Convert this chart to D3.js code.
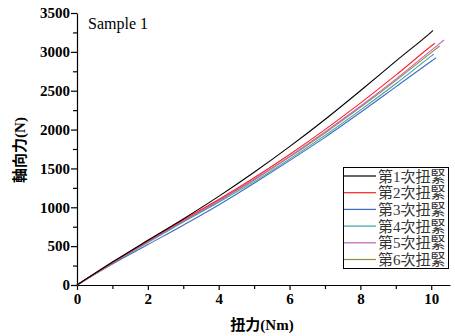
<!DOCTYPE html>
<html>
<head>
<meta charset="utf-8">
<script src="https://cdn.jsdelivr.net/npm/d3@7"></script>
<style>
  body { margin: 0; background: #fff; }
  .tick text { font-family: "Liberation Serif", serif; font-weight: bold; font-size: 15px; fill: #000; }
  .domain, .tick line { stroke: #000; stroke-width: 1.2; }
</style>
</head>
<body>
<div class="chart"></div>
<script>
var svgWidth = 455;
var svgHeight = 336;

// data (torque Nm -> axial force N)
var seriesNames = ["第1次扭緊", "第2次扭緊", "第3次扭緊", "第4次扭緊", "第5次扭緊", "第6次扭緊"];
var seriesColors = ["#000000", "#ff2020", "#3a6cc8", "#3fa0a0", "#c060c0", "#8f8f40"];

var torque1 = [0, 1, 2, 3, 4, 5, 6, 7, 8, 9, 10, 10.05];
var force1 = [0, 295, 575, 850, 1140, 1450, 1780, 2130, 2500, 2880, 3255, 3275];
var torque2 = [0, 1, 2, 3, 4, 5, 6, 7, 8, 9, 10, 10.1];
var force2 = [0, 290, 570, 840, 1100, 1380, 1680, 2000, 2340, 2700, 3075, 3111];
var torque3 = [0, 1, 2, 3, 4, 5, 6, 7, 8, 9, 10, 10.14];
var force3 = [0, 270, 520, 770, 1030, 1310, 1600, 1900, 2220, 2550, 2880, 2925];
var torque4 = [0, 1, 2, 3, 4, 5, 6, 7, 8, 9, 10, 10.07];
var force4 = [0, 280, 548, 810, 1065, 1330, 1620, 1925, 2250, 2590, 2945, 2969];
var torque5 = [0, 1, 2, 3, 4, 5, 6, 7, 8, 9, 10, 10.36];
var force5 = [0, 285, 560, 825, 1085, 1360, 1655, 1970, 2300, 2650, 3020, 3153];
var torque6 = [0, 1, 2, 3, 4, 5, 6, 7, 8, 9, 10, 10.24];
var force6 = [0, 283, 555, 820, 1080, 1350, 1645, 1955, 2285, 2630, 2990, 3076];

var xTicks = [0, 2, 4, 6, 8, 10];
var yTicks = [0, 500, 1000, 1500, 2000, 2500, 3000, 3500];

var allTorque = [torque1, torque2, torque3, torque4, torque5, torque6];
var allForce = [force1, force2, force3, force4, force5, force6];

var svg = d3.select(".chart")
  .append("svg")
  .attr("width", svgWidth)
  .attr("height", svgHeight);

var xScale = d3.scaleLinear().domain([0, 10.53]).range([77, 450]);
var yScale = d3.scaleLinear().domain([0, 3500]).range([285, 13]);

// minor ticks first, majors on top
svg.append("g")
  .attr("transform", "translate(0,285)")
  .call(d3.axisBottom(xScale).tickValues(d3.range(1, 11, 2)).tickSize(4).tickFormat(""))
  .select(".domain").remove();
svg.append("g")
  .attr("transform", "translate(77,0)")
  .call(d3.axisLeft(yScale).tickValues(d3.range(250, 3500, 500)).tickSize(4).tickFormat(""))
  .select(".domain").remove();

svg.append("g")
  .attr("transform", "translate(0,285)")
  .call(d3.axisBottom(xScale).tickValues(xTicks).tickFormat(d3.format("d"))
    .tickSize(5).tickSizeOuter(0).tickPadding(3));

svg.append("g")
  .attr("transform", "translate(77,0)")
  .call(d3.axisLeft(yScale).tickValues(yTicks).tickFormat(d3.format("d"))
    .tickSize(6).tickSizeOuter(0).tickPadding(1));

// curves
var line = d3.line()
  .x(function(d) { return xScale(d[0]); })
  .y(function(d) { return yScale(d[1]); })
  .curve(d3.curveMonotoneX);

// draw black last like the reference stacking
var order = [2, 3, 5, 4, 1, 0];
order.forEach(function(i) {
  var pts = allTorque[i].map(function(t, j) { return [t, allForce[i][j]]; });
  svg.append("path")
    .datum(pts)
    .attr("fill", "none")
    .attr("stroke", seriesColors[i])
    .attr("stroke-width", 1.1)
    .attr("d", line);
});

// sample title
svg.append("text")
  .attr("x", 88)
  .attr("y", 29)
  .style("font-family", "'Liberation Serif', serif")
  .style("font-size", "16px")
  .text("Sample 1");

// axis titles
svg.append("text")
  .attr("transform", "translate(25,150) rotate(-90)")
  .attr("text-anchor", "middle")
  .style("font-family", "'Liberation Serif', 'Noto Sans CJK TC', serif")
  .style("font-weight", "bold")
  .style("font-size", "15px")
  .text("軸向力(N)");

svg.append("text")
  .attr("x", 262)
  .attr("y", 330)
  .attr("text-anchor", "middle")
  .style("font-family", "'Liberation Serif', 'Noto Sans CJK TC', serif")
  .style("font-weight", "bold")
  .style("font-size", "15px")
  .text("扭力(Nm)");

// legend
var legend = svg.append("g");
legend.append("rect")
  .attr("x", 343.5)
  .attr("y", 167.5)
  .attr("width", 105)
  .attr("height", 101)
  .attr("fill", "#fff")
  .attr("stroke", "#000")
  .attr("stroke-width", 1);

seriesNames.forEach(function(name, i) {
  var ly = 176 + i * 16.7;
  legend.append("line")
    .attr("x1", 344).attr("x2", 376)
    .attr("y1", ly).attr("y2", ly)
    .attr("stroke", seriesColors[i])
    .attr("stroke-width", 1.2);
  legend.append("text")
    .attr("x", 378)
    .attr("y", ly + 5.5)
    .style("font-family", "'Liberation Serif', 'Noto Sans CJK TC', serif")
    .style("font-size", "15px")
    .style("fill", "#333")
    .text(name);
});
</script>
</body>
</html>
